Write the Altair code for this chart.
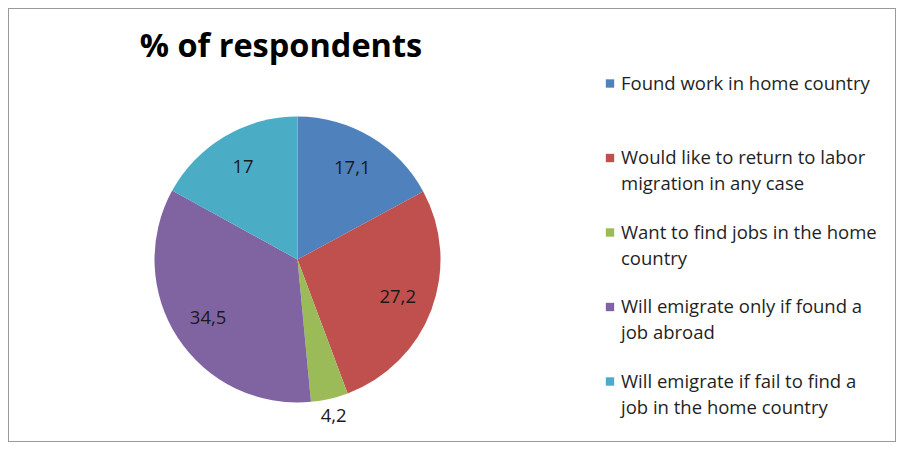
import altair as alt
import pandas as pd

categories = [
    "Found work in home country",
    "Would like to return to labor migration in any case",
    "Want to find jobs in the home country",
    "Will emigrate only if found a job abroad",
    "Will emigrate if fail to find a job in the home country",
]
legend_text = [
    "Found work in home country",
    "Would like to return to labor\nmigration in any case",
    "Want to find jobs in the home\ncountry",
    "Will emigrate  only if found a\njob abroad",
    "Will emigrate  if fail to find a\njob in the home country",
]
values = [17.1, 27.2, 4.2, 34.5, 17.0]
colors = ["#4F81BD", "#C0504D", "#9BBB59", "#8064A2", "#4BACC6"]
title_text = "% of respondents"

df = pd.DataFrame({
    "category": categories,
    "legend": legend_text,
    "value": values,
    "idx": list(range(len(categories))),
})

FONT = "Open Sans"
CX, CY, R = 289.5, 251.5, 143

color = alt.Color("category:N", scale=alt.Scale(domain=categories, range=colors), legend=None)

base = alt.Chart(df).transform_calculate(
    label="replace(format(datum.value, '.1~f'), '.', ',')"
)

pie = base.mark_arc(radius=R).encode(
    theta=alt.Theta("value:Q", stack=True),
    color=color,
    order=alt.Order("idx:Q"),
    x=alt.value(CX),
    y=alt.value(CY),
)

txt_in = base.mark_text(
    radius=107, font=FONT, fontSize=18.5, color="#1a1a1a"
).encode(
    theta=alt.Theta("value:Q", stack=True),
    order=alt.Order("idx:Q"),
    text=alt.condition("datum.value >= 5", "label:N", alt.value("")),
    x=alt.value(CX),
    y=alt.value(CY),
)

txt_out = base.mark_text(
    radius=161, font=FONT, fontSize=18.5, color="#1a1a1a"
).encode(
    theta=alt.Theta("value:Q", stack=True),
    order=alt.Order("idx:Q"),
    text=alt.condition("datum.value < 5", "label:N", alt.value("")),
    x=alt.value(CX),
    y=alt.value(CY),
)

title = alt.Chart(pd.DataFrame({"t": [title_text]})).mark_text(
    font=FONT, fontSize=32.5, fontWeight="bold", color="#000000", align="center", baseline="alphabetic"
).encode(text="t:N", x=alt.value(273), y=alt.value(49))

ypos = alt.Y("category:N", scale=alt.Scale(domain=categories, type="point", range=[75.5, 373.5], padding=0), axis=None)

leg_sq = base.mark_square(size=70, opacity=1).encode(
    y=ypos, color=color, x=alt.value(602)
)
leg_txt = base.mark_text(
    align="left", baseline="alphabetic", dy=6, lineBreak="\n", lineHeight=26,
    font=FONT, fontSize=18.5, color="#1f1f1f"
).encode(y=ypos, text="legend:N", x=alt.value(613))

chart = alt.layer(pie, txt_in, txt_out, title, leg_sq, leg_txt).properties(
    width=888, height=434, padding=0,
    autosize=alt.AutoSizeParams(type="none"),
).configure_view(stroke="#9a9a9a", strokeWidth=2)

chart.save("out.html", embed_options={"renderer": "svg", "actions": False})
